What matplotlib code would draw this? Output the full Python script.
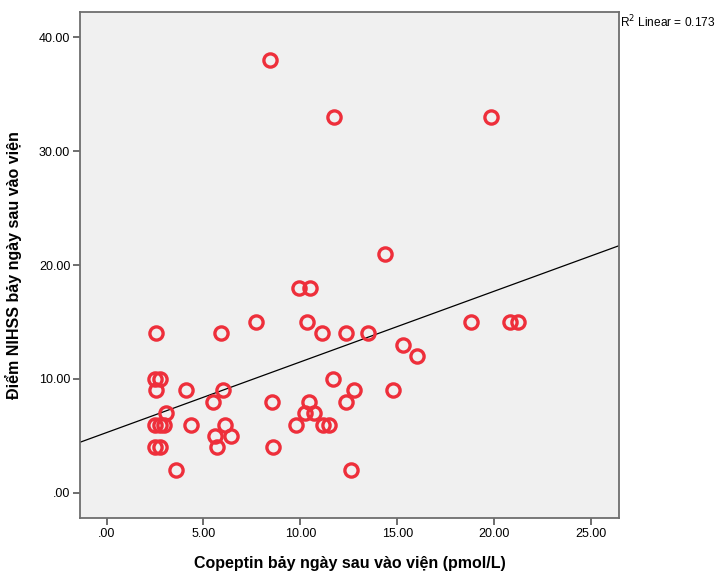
import matplotlib
matplotlib.use("Agg")
import matplotlib.pyplot as plt
import numpy as np

plt.rcParams["font.family"] = ["Liberation Sans", "DejaVu Sans"]

# Copeptin (pmol/L) seven days after admission vs. NIHSS score
copeptin = [8.42, 11.75, 19.82, 14.37, 9.93, 10.49, 7.71, 10.34, 18.81, 20.83, 21.23,
            2.57, 5.9, 11.14, 12.36, 13.47, 15.28, 15.99, 2.52, 2.77, 11.7,
            2.57, 4.08, 6.0, 12.76, 14.78, 5.5, 8.52, 10.44, 12.36, 3.07, 10.24, 10.69,
            2.52, 2.77, 2.97, 4.38, 6.1, 9.78, 11.19, 11.5, 5.6, 6.4,
            2.52, 2.77, 5.7, 8.57, 3.58, 12.61]
nihss = [38, 33, 33, 21, 18, 18, 15, 15, 15, 15, 15,
         14, 14, 14, 14, 14, 13, 12, 10, 10, 10,
         9, 9, 9, 9, 9, 8, 8, 8, 8, 7, 7, 7,
         6, 6, 6, 6, 6, 6, 6, 6, 5, 5,
         4, 4, 4, 4, 2, 2]
r2_label = "0.173"

x = np.array(copeptin)
y = np.array(nihss)
slope, intercept = np.polyfit(x, y, 1)

XLIM = (-1.37, 26.44)
YLIM = (-2.2, 42.2)

fig = plt.figure(figsize=(7.17, 5.73), dpi=100)
ax = fig.add_axes([0.1116, 0.096, 0.7518, 0.883])
ax.set_facecolor("#f0f0f0")

xs = np.array(XLIM)
ax.plot(xs, intercept + slope * xs, color="black", lw=0.9, zorder=2)
ax.plot(x, y, "o", ms=9.5, mfc="none", mec="#ee2f3b", mew=2.4, zorder=3)

ax.set_xlim(*XLIM)
ax.set_ylim(*YLIM)
ax.set_xticks([0, 5, 10, 15, 20, 25])
ax.set_xticklabels([".00", "5.00", "10.00", "15.00", "20.00", "25.00"])
ax.set_yticks([0, 10, 20, 30, 40])
ax.set_yticklabels([".00", "10.00", "20.00", "30.00", "40.00"])
ax.tick_params(direction="out", length=5, width=1.2, color="#555555",
               labelsize=9, pad=2)
for sp in ax.spines.values():
    sp.set_color("#6e6e6e")
    sp.set_linewidth(1.3)

ax.set_xlabel("Copeptin bảy ngày sau vào viện (pmol/L)", fontsize=11.5,
              fontweight="bold", labelpad=12)
ax.set_ylabel("Điểm NIHSS bảy ngày sau vào viện", fontsize=11.5,
              fontweight="bold", labelpad=12)

fig.text(0.8645, 0.9616, f"R$^2$ Linear = {r2_label}", fontsize=8.6,
         ha="left", va="center")

fig.savefig("out.png", dpi=100)
